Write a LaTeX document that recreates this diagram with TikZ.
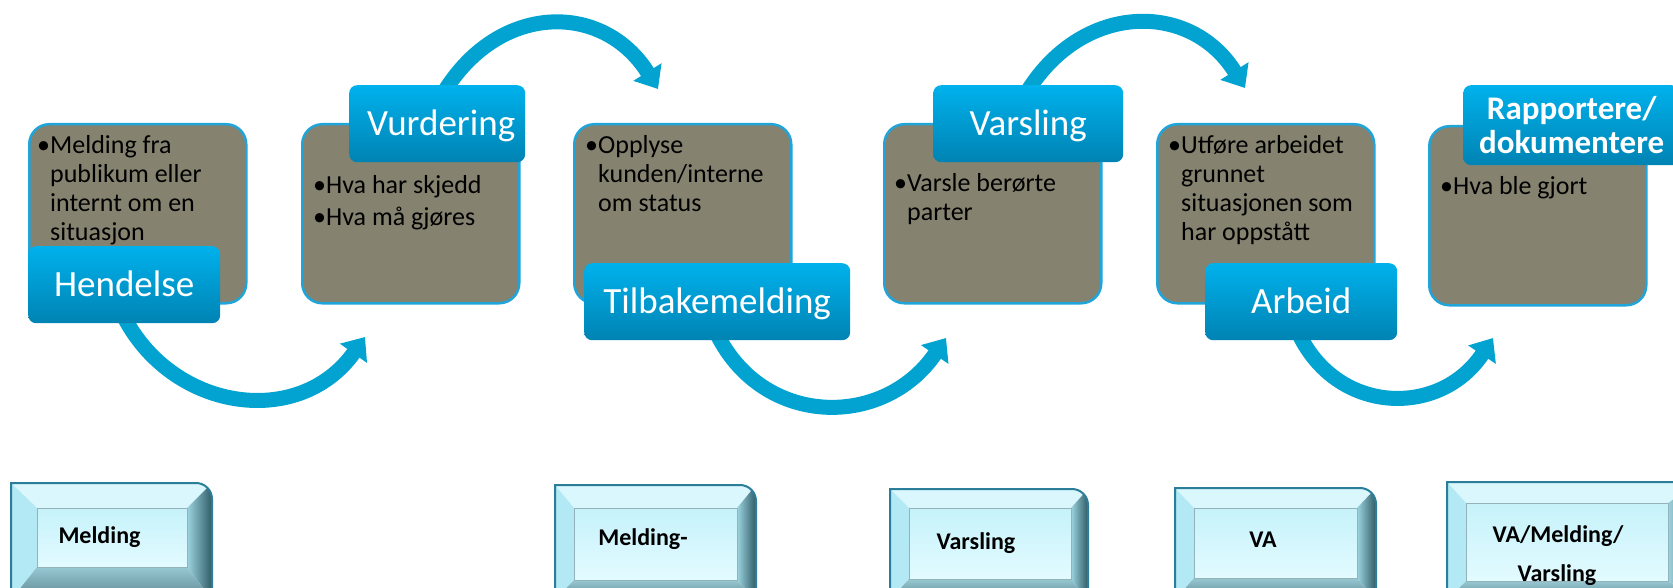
\documentclass[tikz,border=0pt]{standalone}
\usepackage{fontspec}
\setmainfont{Carlito}
\usetikzlibrary{arrows.meta,calc,backgrounds}
\definecolor{gbox}{HTML}{85826F}
\definecolor{gline}{HTML}{1FA5DA}
\definecolor{ltop}{HTML}{00B1EC}
\definecolor{lbot}{HTML}{0083B3}
\definecolor{arrc}{HTML}{02A3D0}
\definecolor{bvtop}{HTML}{D9F7FC}
\definecolor{bvleft}{HTML}{B2E9F4}
\definecolor{bvright1}{HTML}{9CD4DF}
\definecolor{bvright2}{HTML}{2F5B66}
\definecolor{bvbot1}{HTML}{98C8D2}
\definecolor{bvbot2}{HTML}{5B8690}
\definecolor{bvedge}{HTML}{2A7E99}
\definecolor{face1}{HTML}{C6F2FA}
\definecolor{face2}{HTML}{E2FBFF}
\definecolor{faceline}{HTML}{93B2B9}
\newcommand\bi{\phantom{•}}
\newcommand\bevbtn[8]{%
  \begin{scope}
    \clip (#1,#2) -- (#3-16,#2) arc[start angle=90,end angle=0,radius=16pt] -- (#3,#4) -- (#1,#4) -- cycle;
    \fill[bvtop] (#1,#2) -- (#3,#2) -- (#7,#6) -- (#5,#6) -- cycle;
    \fill[bvleft] (#1,#2) -- (#5,#6) -- (#5,#8) -- (#1,#4) -- cycle;
    \shade[left color=bvright1,right color=bvright2] (#3,#2) -- (#3,#4) -- (#7,#8) -- (#7,#6) -- cycle;
    \shade[top color=bvbot1,bottom color=bvbot2] (#1,#4) -- (#5,#8) -- (#7,#8) -- (#3,#4) -- cycle;
  \end{scope}
  \draw[bvedge,line width=2pt] (#1,#4) -- (#1,#2) -- (#3-16,#2) arc[start angle=90,end angle=0,radius=16pt] -- (#3,#4);
  \shade[top color=face1,bottom color=face2,draw=faceline,line width=1pt] (#5,#6) rectangle (#7,#8);
}
\tikzset{
  graybox/.style={draw=gline,line width=2.5pt,fill=gbox,rounded corners=20pt,
    minimum width=217pt,minimum height=179pt,inner sep=0pt,anchor=north west},
  lblbase/.style={rounded corners=8pt,top color=ltop,bottom color=lbot,text=white,
    inner sep=0pt,anchor=north west},
  lblbox/.style={lblbase,font=\fontsize{37}{40}\selectfont,minimum height=77pt,
    text height=23pt,text depth=0pt},
  bultxt/.style={anchor=north west,inner sep=0pt,align=left,
    font=\fontsize{26}{29}\selectfont,text=black},
  flow/.style={draw=arrc,line width=15pt,-{Triangle[width=32pt,length=20pt]}},
  btntxt/.style={anchor=base,font=\bfseries\fontsize{24}{28}\selectfont,inner sep=0pt},
}
\begin{document}
\begin{tikzpicture}[x=1pt,y=-1pt]
\useasboundingbox (0,0) rectangle (1673,588);
\clip (0,0) rectangle (1673,588);
% gray content boxes
\node[graybox] (g1) at (28,123) {};
\node[graybox] (g2) at (301,123) {};
\node[graybox] (g3) at (573,123) {};
\node[graybox] (g4) at (883,123) {};
\node[graybox] (g5) at (1156,123) {};
\node[graybox] (g6) at (1428,125) {};
% bullet texts
\node[bultxt] (t1) at (37,135) {•Melding fra\\\bi publikum eller\\\bi internt om en\\\bi situasjon};
\node[bultxt] (t2) at (313,175) {•Hva har skjedd\\[3pt]•Hva må gjøres};
\node[bultxt] (t3) at (585,135) {•Opplyse\\\bi kunden/interne\\\bi om status};
\node[bultxt] (t4) at (894,173) {•Varsle berørte\\\bi parter};
\node[bultxt] (t5) at (1168,135) {•Utføre arbeidet\\\bi grunnet\\\bi situasjonen som\\\bi har oppstått};
\node[bultxt] (t6) at (1440,176) {•Hva ble gjort};
% label boxes
\node[lblbox,minimum width=192pt] (hend) at (28,246) {Hendelse};
\node[lblbox,minimum width=176pt] (vurd) at (349,85) {\hspace*{8pt}Vurdering};
\node[lblbox,minimum width=266pt] (tilb) at (584,263) {Tilbakemelding};
\node[lblbox,minimum width=190pt] (vars) at (933,85) {Varsling};
\node[lblbox,minimum width=192pt] (arb) at (1205,263) {Arbeid};
\node[lblbase,minimum width=217pt,minimum height=80pt,align=center,
  font=\bfseries\fontsize{33}{34}\selectfont] (rapp) at (1463,85) {Rapportere/\\dokumentere};
% arrows (behind)
\coordinate (e1) at (365,337);
\coordinate (e2) at (658,89);
\coordinate (e3) at (946,338);
\coordinate (e4) at (1245,88);
\coordinate (e5) at (1493,338);
\begin{scope}[on background layer]
\draw[flow] ([shift={(-2,-10)}]hend.south) .. controls +(48,98) and +(-66,93) .. (e1);
\draw[flow] ([shift={(5,10)}]vurd.north) .. controls +(55,-93) and +(-55,-88) .. (e2);
\draw[flow] ([shift={(-2,-10)}]tilb.south) .. controls +(45,97) and +(-63,92) .. (e3);
\draw[flow] ([shift={(-3,10)}]vars.north) .. controls +(55,-93) and +(-55,-88) .. (e4);
\draw[flow] ([shift={(-4,-10)}]arb.south) .. controls +(38,85) and +(-53,80) .. (e5);
\end{scope}
% bottom buttons
\bevbtn{11}{483}{212}{600}{37}{508}{187}{567}
\bevbtn{555}{485}{756}{600}{574}{508}{737}{580}
\bevbtn{890}{489}{1088}{600}{909}{508}{1071}{579}
\bevbtn{1175}{488}{1376}{600}{1194}{508}{1357}{578}
\bevbtn{1447}{482}{1700}{600}{1466}{503}{1668}{581}
\node[btntxt] (m1) at (99.5,543) {Melding};
\node[btntxt] (m2) at (643,545) {Melding-};
\node[btntxt] (m3) at (976,549) {Varsling};
\node[btntxt] (m4) at (1263,547) {VA};
\node[btntxt] (m5) at (1558,542) {VA/Melding/};
\node[btntxt] (m6) at (1557,581) {Varsling};
\end{tikzpicture}
\end{document}
